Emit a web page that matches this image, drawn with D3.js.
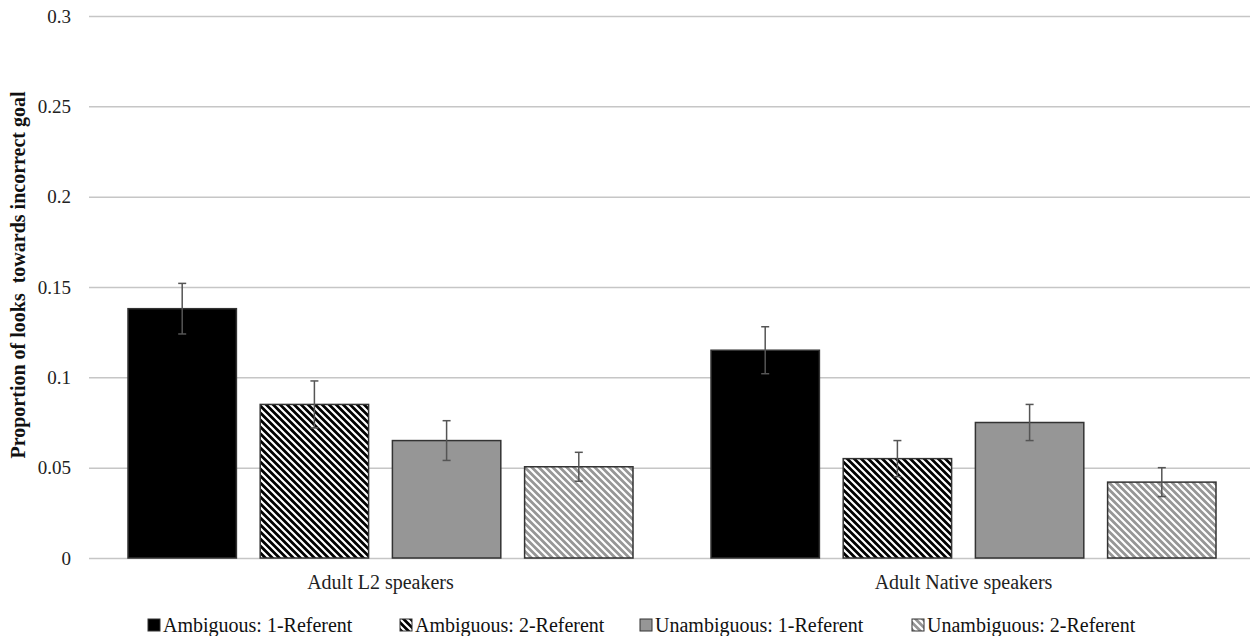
<!DOCTYPE html>
<html>
<head>
<meta charset="utf-8">
<script src="https://cdn.jsdelivr.net/npm/d3@7"></script>
<style>
  body { margin: 0; background: #fff; }
  svg text { font-family: "Liberation Serif", "Times New Roman", Tinos, "DejaVu Serif", serif !important; }
</style>
</head>
<body>
<svg id="chart" width="1250" height="636"></svg>
<script>
// groups on the x axis, four conditions each
const groups = ['Adult L2 speakers', 'Adult Native speakers'];
const conditions = ['Ambiguous: 1-Referent', 'Ambiguous: 2-Referent', 'Unambiguous: 1-Referent', 'Unambiguous: 2-Referent'];
const means = [
  [0.138, 0.085, 0.065, 0.0505],
  [0.115, 0.055, 0.075, 0.042]
];
const errors = [
  [0.014, 0.013, 0.011, 0.008],
  [0.013, 0.010, 0.010, 0.008]
];
const yTicks = [0, 0.05, 0.1, 0.15, 0.2, 0.25, 0.3];
const yTitle = 'Proportion of looks  towards incorrect goal';

const svg = d3.select('#chart');

const plotLeft = 89;
const plotRight = 1255;
const plotTop = 16;
const plotBottom = 558;

// hatch patterns
const defs = svg.append('defs');
function hatch(id, bg) {
  const p = defs.append('pattern')
    .attr('id', id)
    .attr('patternUnits', 'userSpaceOnUse')
    .attr('width', 7)
    .attr('height', 7);
  p.append('rect').attr('width', 7).attr('height', 7).attr('fill', bg);
  p.append('path')
    .attr('d', 'M-1,-1 L8,8 M-1,6 L1,8 M6,-1 L8,1')
    .attr('stroke', '#fff')
    .attr('stroke-width', 2.2);
}
hatch('hatchDark', '#000');
hatch('hatchLight', '#969696');

const fills = ['#000', 'url(#hatchDark)', '#969696', 'url(#hatchLight)'];

const y = d3.scaleLinear().domain([0, 0.3]).range([plotBottom, plotTop]);

const x0 = d3.scaleBand().domain(groups).range([plotLeft, plotRight]);
const x1 = d3.scaleBand().domain(conditions)
  .range([0, x0.bandwidth()])
  .paddingInner(0.18)
  .paddingOuter(0.295);

// gridlines + tick labels
const yAxis = svg.append('g')
  .attr('transform', `translate(${plotLeft},0)`)
  .call(d3.axisLeft(y).tickValues(yTicks).tickSize(-(1250 - plotLeft)).tickFormat(d => d === 0 ? '0' : String(d)));
yAxis.attr('font-family', null);
yAxis.select('.domain').remove();
yAxis.selectAll('.tick line').attr('stroke', '#c6c6c6').attr('stroke-width', 1.5);
yAxis.selectAll('.tick text')
  .attr('x', -18)
  .attr('fill', '#222')
  .attr('font-size', '19px');

// axis title
svg.append('text')
  .attr('transform', `translate(25,275) rotate(-90)`)
  .attr('text-anchor', 'middle')
  .attr('font-weight', 'bold')
  .attr('font-size', '20px')
  .attr('fill', '#111')
  .style('white-space', 'pre')
  .text(yTitle);

// bars
const gGroups = svg.selectAll('.grp')
  .data(groups)
  .enter()
  .append('g')
  .attr('class', 'grp')
  .attr('transform', d => `translate(${x0(d)},0)`);

gGroups.each(function (g, gi) {
  const sel = d3.select(this);
  const rows = conditions.map((c, ci) => ({ c, ci, v: means[gi][ci], e: errors[gi][ci] }));

  sel.selectAll('rect')
    .data(rows)
    .enter()
    .append('rect')
    .attr('x', d => x1(d.c))
    .attr('y', d => y(d.v))
    .attr('width', x1.bandwidth())
    .attr('height', d => y(0) - y(d.v))
    .attr('fill', d => fills[d.ci])
    .attr('stroke', '#333')
    .attr('stroke-width', 1.5);

  const err = sel.selectAll('.err')
    .data(rows)
    .enter()
    .append('g')
    .attr('class', 'err')
    .attr('stroke', '#555')
    .attr('stroke-width', 1.5);
  err.append('line')
    .attr('x1', d => x1(d.c) + x1.bandwidth() / 2)
    .attr('x2', d => x1(d.c) + x1.bandwidth() / 2)
    .attr('y1', d => y(d.v - d.e))
    .attr('y2', d => y(d.v + d.e));
  err.append('line')
    .attr('x1', d => x1(d.c) + x1.bandwidth() / 2 - 4)
    .attr('x2', d => x1(d.c) + x1.bandwidth() / 2 + 4)
    .attr('y1', d => y(d.v + d.e))
    .attr('y2', d => y(d.v + d.e));
  err.append('line')
    .attr('x1', d => x1(d.c) + x1.bandwidth() / 2 - 4)
    .attr('x2', d => x1(d.c) + x1.bandwidth() / 2 + 4)
    .attr('y1', d => y(d.v - d.e))
    .attr('y2', d => y(d.v - d.e));
});

// category labels
svg.selectAll('.cat')
  .data(groups)
  .enter()
  .append('text')
  .attr('class', 'cat')
  .attr('x', d => x0(d) + x0.bandwidth() / 2)
  .attr('y', 589)
  .attr('text-anchor', 'middle')
  .attr('font-size', '20px')
  .attr('fill', '#222')
  .text(d => d);

// legend
const legendX = [148, 400, 640, 912];
const legend = svg.selectAll('.leg')
  .data(conditions)
  .enter()
  .append('g')
  .attr('class', 'leg')
  .attr('transform', (d, i) => `translate(${legendX[i]},619)`);
legend.append('rect')
  .attr('width', 12)
  .attr('height', 12)
  .attr('fill', (d, i) => fills[i])
  .attr('stroke', '#333')
  .attr('stroke-width', 1);
legend.append('text')
  .attr('x', 15)
  .attr('y', 13)
  .attr('font-size', '20px')
  .attr('fill', '#111')
  .text(d => d);
</script>
</body>
</html>
